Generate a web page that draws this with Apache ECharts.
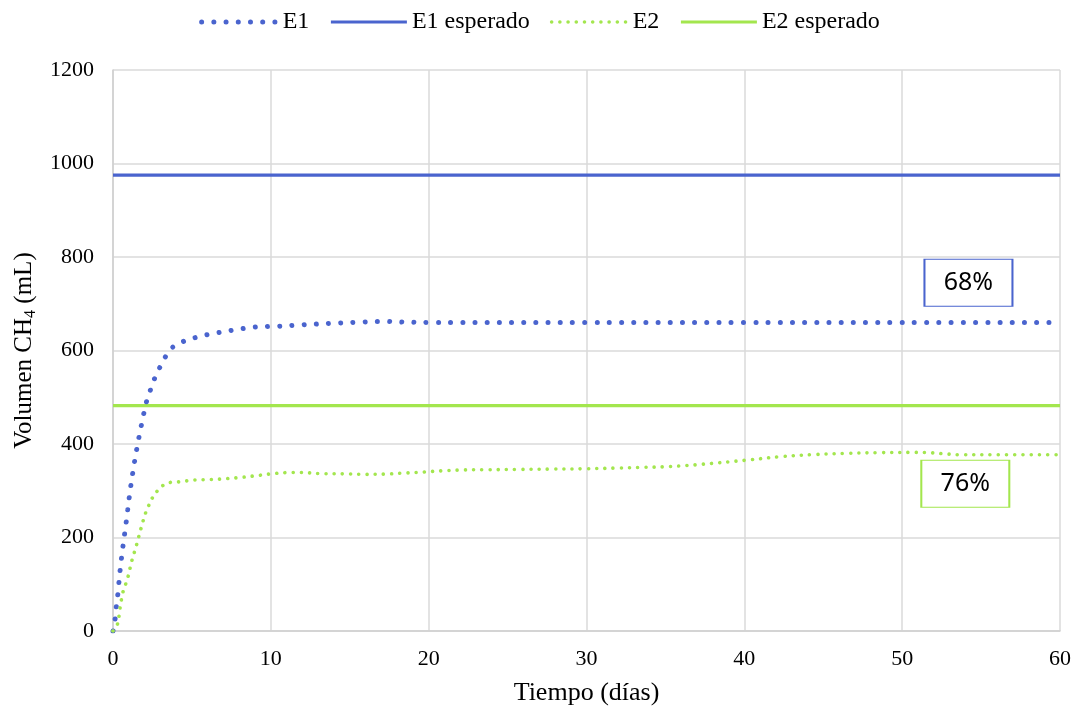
<!DOCTYPE html>
<html>
<head>
<meta charset="utf-8">
<script src="https://cdn.jsdelivr.net/npm/echarts@6/dist/echarts.min.js"></script>
<style>
  html, body { margin: 0; padding: 0; background: #fff; }
  #chart { width: 1079px; height: 711px; }
</style>
</head>
<body>
<div id="chart"></div>
<script>
// Cumulative methane volume (mL) over time (days)
const seriesNames = ['E1', 'E1 esperado', 'E2', 'E2 esperado'];

const e1Days = [0, 0.13, 0.2, 0.3, 0.45, 0.63, 0.84, 1.03, 1.25, 1.51, 1.81, 2.15, 2.4, 2.67, 3.0, 3.37, 3.85, 4.5, 5.25, 6.0, 7.5, 9.0, 10.5, 12.0, 14.4, 15.9, 16.7, 17.4, 18.2, 20, 30, 40, 50, 60];
const e1Vol  = [0, 25, 50, 77, 130, 181, 234, 286, 338, 390, 442, 494, 518, 543, 566, 589, 609, 620, 628, 634, 643, 650, 652, 655, 659, 661, 662, 662, 661, 660, 660, 660, 660, 660];

const e2Days = [0, 0.27, 0.44, 0.63, 0.8, 0.95, 1.2, 1.5, 1.77, 2.08, 2.27, 2.5, 2.82, 3.2, 3.66, 4.16, 5.18, 6.2, 7.23, 8.24, 9.26, 10.27, 11.3, 11.8, 12.3, 13.3, 14.9, 15.9, 17.5, 18.5, 19.5, 20.0, 21.1, 22.1, 23.7, 25.75, 27.8, 29.9, 32.0, 33.5, 35.0, 36.1, 37.1, 40.3, 42.3, 44.4, 46.4, 48.5, 50.6, 51.6, 52.7, 53.7, 56, 60];
const e2Vol  = [0, 13, 48, 83, 100, 116, 151, 185, 219, 254, 269, 285, 300, 312, 318, 319, 323, 324, 326, 329, 333, 337, 339, 339, 338.6, 336.5, 336, 335, 336, 338, 339.5, 341, 343, 344.4, 345, 345.6, 346.3, 347, 348.6, 350, 351.4, 353.5, 356, 366, 373, 377.4, 380, 381.5, 382, 381.5, 379, 377, 377, 377];

const expectedDays = [0, 60];
const e1Expected = [975, 975];
const e2Expected = [482, 482];

// Yield boxes: [day, volume] centre and text
const e1BoxAt = [54.2, 745];
const e1BoxText = '68%';
const e2BoxAt = [54.0, 315];
const e2BoxText = '76%';

const xTicks = { min: 0, max: 60, interval: 10 };
const yTicks = { min: 0, max: 1200, interval: 200 };

const BLUE = '#4A64CE';
const GREEN = '#A3E64E';
const SERIF = '"Liberation Serif", "Times New Roman", serif';
const SANS = '"Noto Sans", "Open Sans", sans-serif';

const E1_LINE = { color: BLUE, width: 5, type: [0.01, 12.2], cap: 'round' };
const E1X_LINE = { color: BLUE, width: 3.2, type: 'solid' };
const E2_LINE = { color: GREEN, width: 3.6, type: [0.01, 8.2], cap: 'round' };
const E2X_LINE = { color: GREEN, width: 3.2, type: 'solid' };
const lineStyles = [E1_LINE, E1X_LINE, E2_LINE, E2X_LINE];

const zip = (xs, ys) => xs.map((x, i) => [x, ys[i]]);

function boxMark(at, text, color) {
  return {
    symbol: 'rect',
    symbolSize: [88, 47],
    silent: true,
    itemStyle: { color: '#fff', borderColor: color, borderWidth: 1.5 },
    label: { show: true, position: 'inside', formatter: text, color: '#000', fontSize: 25, fontFamily: SANS },
    data: [{ coord: at }]
  };
}

const chart = echarts.init(document.getElementById('chart'), null, { renderer: 'canvas' });
chart.setOption({
  animation: false,
  backgroundColor: '#fff',
  legend: {
    top: 5,
    left: 'center',
    itemWidth: 76,
    itemHeight: 14,
    itemGap: 20,
    textStyle: { fontFamily: SERIF, fontSize: 24, color: '#000' },
    data: seriesNames.map((n, i) => ({
      name: n,
      itemStyle: { opacity: 0 },
      lineStyle: Object.assign({}, lineStyles[i])
    }))
  },
  grid: { left: 113, right: 19, top: 70, bottom: 80 },
  xAxis: {
    type: 'value',
    min: xTicks.min, max: xTicks.max, interval: xTicks.interval,
    name: 'Tiempo (días)',
    nameLocation: 'middle',
    nameGap: 49,
    nameTextStyle: { fontFamily: SERIF, fontSize: 26, color: '#000' },
    axisLine: { show: true, lineStyle: { color: '#cfcfcf', width: 1.5 } },
    axisTick: { show: false },
    axisLabel: { fontFamily: SERIF, fontSize: 22, color: '#000', margin: 17 },
    splitLine: { show: true, lineStyle: { color: '#dadada', width: 1.5 } }
  },
  yAxis: {
    type: 'value',
    min: yTicks.min, max: yTicks.max, interval: yTicks.interval,
    name: 'Volumen CH{sub|4} (mL)',
    nameLocation: 'middle',
    nameGap: 70,
    nameRotate: 90,
    nameTextStyle: {
      fontFamily: SERIF, fontSize: 25, color: '#000',
      rich: { sub: { fontFamily: SERIF, fontSize: 16, color: '#000', verticalAlign: 'bottom', padding: [14, 0, 0, 0] } }
    },
    axisLine: { show: true, lineStyle: { color: '#cfcfcf', width: 1.5 } },
    axisTick: { show: false },
    axisLabel: { fontFamily: SERIF, fontSize: 22, color: '#000', margin: 19, formatter: v => String(v) },
    splitLine: { show: true, lineStyle: { color: '#dadada', width: 1.5 } }
  },
  series: [
    {
      name: 'E1', type: 'line', data: zip(e1Days, e1Vol),
      smooth: 0.4, symbol: 'none', z: 3,
      lineStyle: E1_LINE,
      itemStyle: { color: BLUE },
      markPoint: boxMark(e1BoxAt, e1BoxText, BLUE)
    },
    {
      name: 'E1 esperado', type: 'line', data: zip(expectedDays, e1Expected),
      symbol: 'none', z: 2,
      lineStyle: E1X_LINE,
      itemStyle: { color: BLUE }
    },
    {
      name: 'E2', type: 'line', data: zip(e2Days, e2Vol),
      smooth: 0.4, symbol: 'none', z: 3,
      lineStyle: E2_LINE,
      itemStyle: { color: GREEN },
      markPoint: boxMark(e2BoxAt, e2BoxText, GREEN)
    },
    {
      name: 'E2 esperado', type: 'line', data: zip(expectedDays, e2Expected),
      symbol: 'none', z: 2,
      lineStyle: E2X_LINE,
      itemStyle: { color: GREEN }
    }
  ]
});
</script>
</body>
</html>
